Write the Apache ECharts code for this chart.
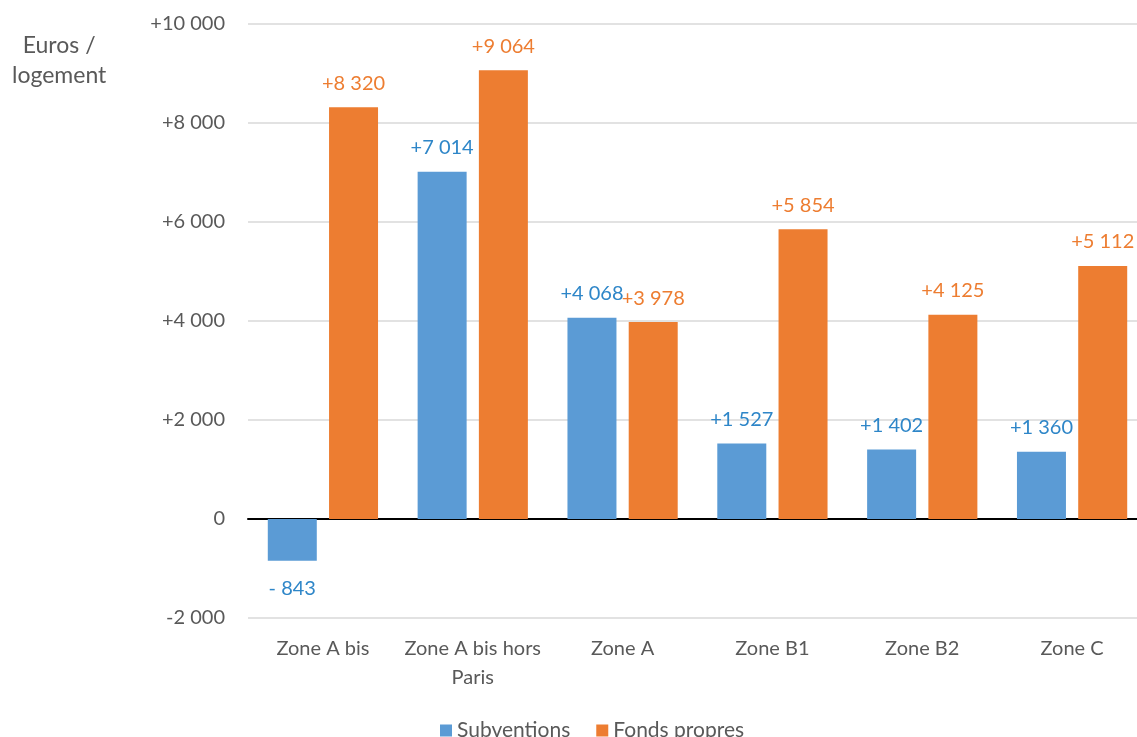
<!DOCTYPE html>
<html>
<head>
<meta charset="utf-8">
<script src="https://cdn.jsdelivr.net/npm/echarts@6/dist/echarts.min.js"></script>
<style>
  html, body { margin: 0; padding: 0; background: #fff; }
  #chart { width: 1137px; height: 737px; }
</style>
</head>
<body>
<div id="chart"></div>
<script>
// données
const zones = ['Zone A bis', 'Zone A bis hors\nParis', 'Zone A', 'Zone B1', 'Zone B2', 'Zone C'];
const subventions = [-843, 7014, 4068, 1527, 1402, 1360];
const fondsPropres = [8320, 9064, 3978, 5854, 4125, 5112];
const yTicks = { min: -2000, max: 10000, step: 2000 };

const FONT = 'Lato';
const BLUE = '#5B9BD5';
const ORANGE = '#ED7D31';

// 8320 -> "8 320"
const spaced = (n) => String(Math.abs(n)).replace(/\B(?=(\d{3})+(?!\d))/g, ' ');
const axisFmt = (v) => v > 0 ? '+' + spaced(v) : (v < 0 ? '-' + spaced(v) : '0');
const barFmt = (v) => v >= 0 ? '+' + spaced(v) : '- ' + spaced(v);

const chart = echarts.init(document.getElementById('chart'));

const labelFor = (color) => ({
  show: true,
  position: 'top',
  distance: 14,
  color: color,
  fontFamily: FONT,
  fontSize: 20,
  formatter: (p) => barFmt(p.value)
});

chart.setOption({
  animation: false,
  // la zone de tracé dépasse un peu à droite, comme sur l'original
  grid: { left: 248, right: -10, top: 24, bottom: 119, outerBoundsMode: 'none' },
  legend: {
    top: 715,
    left: 435,
    itemWidth: 12,
    itemHeight: 12,
    itemGap: 26,
    icon: 'rect',
    textStyle: { color: '#595959', fontFamily: FONT, fontSize: 21 },
    data: ['Subventions', 'Fonds propres']
  },
  graphic: [{
    type: 'text',
    left: 12,
    top: 31,
    style: {
      text: 'Euros /\nlogement',
      fill: '#595959',
      font: '23px ' + FONT,
      lineHeight: 30,
      textAlign: 'center'
    }
  }],
  xAxis: {
    type: 'category',
    data: zones,
    axisTick: { show: false },
    axisLine: { show: true, onZero: true, lineStyle: { color: '#000', width: 2 } },
    axisLabel: {
      color: '#595959',
      fontFamily: FONT,
      fontSize: 20,
      lineHeight: 29,
      margin: 16,
      interval: 0
    }
  },
  yAxis: {
    type: 'value',
    min: yTicks.min,
    max: yTicks.max,
    interval: yTicks.step,
    axisLine: { show: false },
    axisTick: { show: false },
    splitLine: { lineStyle: { color: '#D9D9D9', width: 1.5 } },
    axisLabel: {
      color: '#595959',
      fontFamily: FONT,
      fontSize: 20,
      margin: 23,
      formatter: axisFmt
    }
  },
  series: [
    {
      name: 'Subventions',
      type: 'bar',
      barWidth: 49,
      barGap: '25%',
      itemStyle: { color: BLUE },
      label: labelFor('#2E86C8'),
      data: subventions.map(v => v < 0
        ? { value: v, label: { position: 'bottom', distance: 18 } }
        : v)
    },
    {
      name: 'Fonds propres',
      type: 'bar',
      barWidth: 49,
      itemStyle: { color: ORANGE },
      label: labelFor(ORANGE),
      data: fondsPropres
    }
  ]
});
</script>
</body>
</html>
